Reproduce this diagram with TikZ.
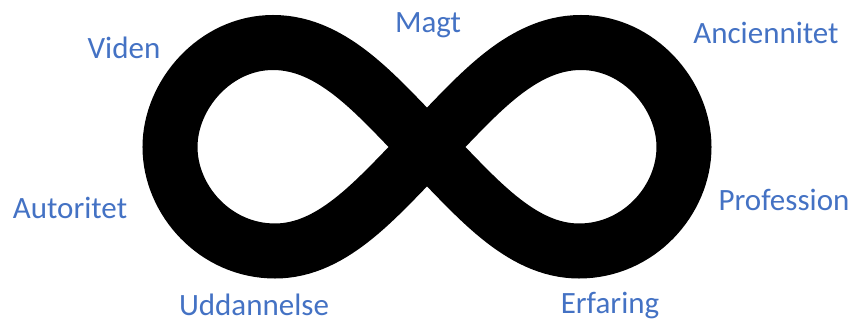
\documentclass[tikz,border=0pt]{standalone}
\usepackage{fontspec}
\setmainfont{Carlito}
\definecolor{lblue}{HTML}{4472C4}
\tikzset{lbl/.style={text=lblue, font=\fontsize{31}{36}\selectfont, inner sep=0pt, anchor=base}}
\begin{document}
\begin{tikzpicture}[x=1pt,y=-1pt]
\useasboundingbox (0,0) rectangle (852,323);
\draw[line width=55pt, black]
  (427,147) .. controls (380,100) and (335,42.5) .. (273,42.5)
  .. controls (215,42.5) and (170,95) .. (170,147)
  .. controls (170,200) and (215,251) .. (275,251)
  .. controls (335,251) and (380,194) .. (427,147)
  .. controls (474,100) and (519,42.5) .. (581,42.5)
  .. controls (639,42.5) and (684,95) .. (684,147)
  .. controls (684,200) and (639,251) .. (579,251)
  .. controls (519,251) and (474,194) .. cycle;
\node[lbl] (viden) at (124,59) {Viden};
\node[lbl] (magt) at (428,33) {Magt};
\node[lbl] (anc) at (766,44) {Anciennitet};
\node[lbl] (aut) at (70,219) {Autoritet};
\node[lbl] (prof) at (784,211) {Profession};
\node[lbl, text depth=0pt] (udd) at (254,316) {Uddannelse};
\node[lbl] (erf) at (610,314) {Erfaring};
\end{tikzpicture}
\end{document}
